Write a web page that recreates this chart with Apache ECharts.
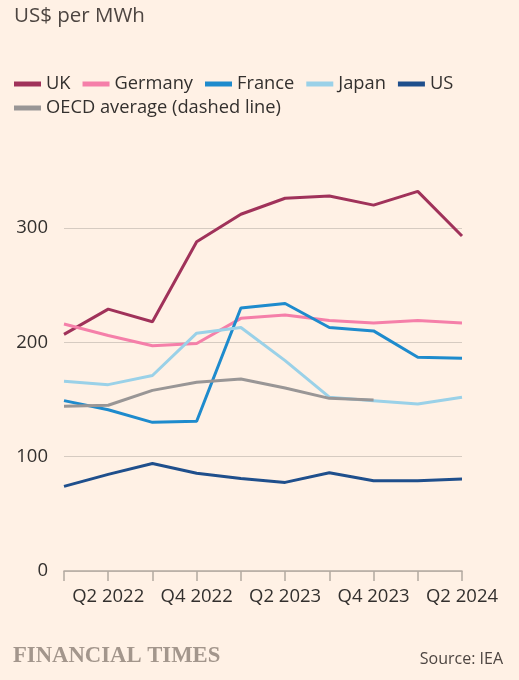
<!DOCTYPE html>
<html>
<head>
<meta charset="utf-8">
<script src="https://cdn.jsdelivr.net/npm/echarts@6/dist/echarts.min.js"></script>
<style>
html,body{margin:0;padding:0;background:#fff1e5;}
#c{width:519px;height:680px;}
</style>
</head>
<body>
<div id="c"></div>
<script>
const categories = ['Q1 2022','Q2 2022','Q3 2022','Q4 2022','Q1 2023','Q2 2023','Q3 2023','Q4 2023','Q1 2024','Q2 2024'];
const uk      = [207, 229, 218, 288, 312, 326, 328, 320, 332, 293];
const germany = [216, 206, 197, 199, 221, 224, 219, 217, 219, 217];
const france  = [149, 141, 130, 131, 230, 234, 213, 210, 187, 186];
const japan   = [166, 163, 171, 208, 213, 184, 152, 149, 146, 152];
const us      = [74, 84.5, 94, 85.5, 81, 77.5, 86, 79, 79, 80.5];
const oecd    = [144, 145, 158, 165, 168, 160, 151, 149.5, null, null];
const yTicks  = [0, 100, 200, 300];

const FONT = 'Open Sans';
const TXT = '#33302e';
const colors = {UK:'#a0325a', Germany:'#f57fa9', France:'#1e8bcd', Japan:'#9ad1e8', US:'#1f4f8c', OECD:'#999696'};

function line(name, data, color){
  return {name, type:'line', data, symbol:'none', clip:false, connectNulls:false,
    lineStyle:{width:3, color}, itemStyle:{color}, emphasis:{disabled:true}, animation:false};
}

const chart = echarts.init(document.getElementById('c'), null, {renderer:'canvas'});
chart.setOption({
  backgroundColor:'#fff1e5',
  animation:false,
  textStyle:{fontFamily:FONT},
  title:{text:'US$ per MWh', left:9, top:1,
    textStyle:{fontFamily:FONT, fontSize:20.5, fontWeight:'normal', color:'#4d4541'}},
  legend:[{
    left:9, top:70, itemWidth:27, itemHeight:5, itemGap:12, icon:'rect',
    data:['UK','Germany','France','Japan','US'],
    textStyle:{fontFamily:FONT, fontSize:18.3, color:TXT, padding:[0,0,0,0]},
    selectedMode:false
  },{
    left:9, top:94, itemWidth:27, itemHeight:5, itemGap:12, icon:'rect',
    data:['OECD average (dashed line)'],
    textStyle:{fontFamily:FONT, fontSize:18.3, color:TXT, padding:[0,0,0,0]},
    selectedMode:false
  }],
  grid:{left:64, right:57, top:228, bottom:109, containLabel:false},
  xAxis:{
    type:'category', data:categories, boundaryGap:false,
    axisLine:{show:true, lineStyle:{color:'#b3a9a0', width:1.5}},
    axisTick:{show:true, alignWithLabel:true, interval:0, length:10, lineStyle:{color:'#b3a9a0', width:1.5}},
    axisLabel:{interval:(i)=>i%2===1, fontFamily:FONT, fontSize:18.5, color:TXT, margin:16},
    splitLine:{show:false}
  },
  yAxis:{
    type:'value', min:yTicks[0], max:yTicks[yTicks.length-1], interval:100,
    axisLine:{show:false}, axisTick:{show:false},
    axisLabel:{fontFamily:FONT, fontSize:18.5, color:TXT, margin:16},
    splitLine:{show:true, lineStyle:{color:'#d6cbc1', width:1.2}}
  },
  series:[
    line('UK', uk, colors.UK),
    line('Germany', germany, colors.Germany),
    line('France', france, colors.France),
    line('Japan', japan, colors.Japan),
    line('US', us, colors.US),
    line('OECD average (dashed line)', oecd, colors.OECD)
  ],
  graphic:[
    {type:'text', left:13, top:645, style:{text:'FINANCIAL TIMES', font:'bold 22.7px "Liberation Serif", "DejaVu Serif", serif', fill:'#a3968c'}},
    {type:'text', right:16, top:651, style:{text:'Source: IEA', font:'16px "Open Sans"', fill:'#4d4541'}}
  ]
});
</script>
</body>
</html>
